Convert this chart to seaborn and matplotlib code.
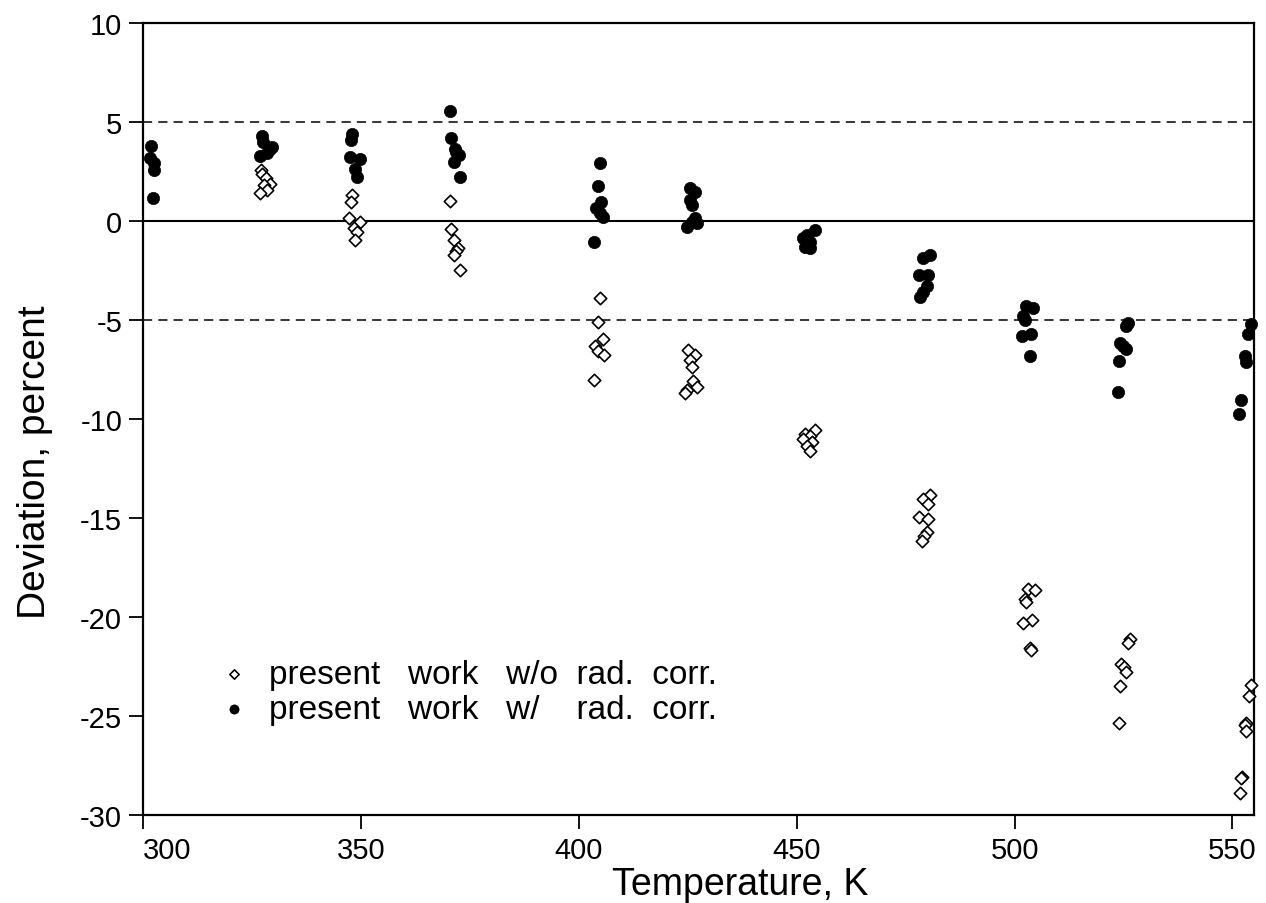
import matplotlib
matplotlib.use("Agg")
import matplotlib.pyplot as plt
import seaborn as sns
import pandas as pd

# ---- data: present work with radiation correction (filled circles) ----
temp_with = [301.8, 301.7, 302.4, 302.6, 302.3,
             327.3, 327.6, 329.2, 328.4, 326.9, 329.5,
             347.9, 347.7, 347.4, 349.7, 348.7, 349.1,
             370.5, 370.7, 371.6, 372.4, 371.4, 372.8, 371.8,
             404.9, 404.3, 405.2, 404.0, 404.9, 405.6, 403.5,
             425.6, 426.7, 425.6, 426.0, 426.7, 426.0, 424.8, 427.1,
             454.2, 452.3, 451.4, 453.1, 451.9, 453.1,
             480.6, 479.0, 480.2, 478.1, 479.8, 479.0, 478.4,
             502.7, 504.2, 501.9, 502.3, 503.8, 501.6, 503.5,
             526.0, 525.6, 524.1, 524.8, 525.5, 523.9, 523.7,
             554.3, 553.6, 552.8, 553.2, 552.0, 551.5]
dev_with = [3.8, 3.15, 2.9, 2.55, 1.17,
            4.3, 4.0, 3.65, 3.4, 3.25, 3.75,
            4.4, 4.07, 3.23, 3.11, 2.64, 2.22,
            5.55, 4.19, 3.65, 3.31, 2.98, 2.22, 3.5,
            2.9, 1.75, 0.97, 0.63, 0.38, 0.21, -1.05,
            1.67, 1.47, 1.05, 0.8, 0.13, -0.04, -0.29, -0.13,
            -0.46, -0.71, -0.88, -1.05, -1.3, -1.38,
            -1.72, -1.89, -2.73, -2.73, -3.31, -3.6, -3.82,
            -4.32, -4.4, -4.82, -4.99, -5.7, -5.83, -6.83,
            -5.16, -5.33, -6.17, -6.33, -6.45, -7.06, -8.63,
            -5.21, -5.71, -6.83, -7.12, -9.07, -9.74]

# ---- data: present work without radiation correction (open diamonds) ----
temp_without = [327.0, 327.3, 328.1, 329.1, 327.7, 328.4, 326.8,
                347.9, 347.7, 347.2, 349.7, 348.3, 349.1, 348.7,
                370.5, 370.7, 371.3, 372.2, 371.9, 371.3, 372.7,
                404.9, 404.3, 405.5, 403.7, 404.3, 405.8, 403.5,
                425.1, 426.7, 425.6, 426.0, 426.3, 427.1, 424.8, 424.4,
                454.2, 451.9, 453.1, 451.4, 453.4, 452.3, 453.1,
                480.7, 479.0, 480.2, 478.1, 480.2, 479.8, 479.2, 478.7,
                503.1, 504.6, 502.3, 502.7, 504.1, 501.9, 503.5, 503.7,
                526.4, 526.0, 524.5, 525.0, 525.6, 524.2, 523.9,
                554.3, 553.8, 553.2, 552.8, 553.0, 552.3, 552.0, 551.8]
dev_without = [2.56, 2.34, 2.17, 1.88, 1.8, 1.55, 1.43,
               1.3, 0.97, 0.13, -0.08, -0.38, -0.58, -0.97,
               1.0, -0.41, -0.97, -1.35, -1.52, -1.72, -2.47,
               -3.9, -5.11, -5.95, -6.33, -6.58, -6.75, -8.04,
               -6.5, -6.75, -7.05, -7.39, -8.09, -8.4, -8.56, -8.68,
               -10.58, -10.75, -10.86, -11.03, -11.15, -11.37, -11.62,
               -13.83, -14.05, -14.3, -14.97, -15.06, -15.73, -15.9, -16.15,
               -18.58, -18.66, -19.08, -19.25, -20.14, -20.31, -21.55, -21.65,
               -21.1, -21.31, -22.35, -22.52, -22.77, -23.49, -25.37,
               -23.44, -24.0, -25.37, -25.46, -25.74, -28.06, -28.14, -28.9]

label_without = "present   work   w/o  rad.  corr."
label_with = "present   work   w/    rad.  corr."
x_ticks = [300, 350, 400, 450, 500, 550]
y_ticks = [10, 5, 0, -5, -10, -15, -20, -25, -30]
ref_lines = [5, -5]

df_without = pd.DataFrame({"T": temp_without, "dev": dev_without})
df_with = pd.DataFrame({"T": temp_with, "dev": dev_with})

sns.set_theme(style="ticks")
plt.rcParams["font.family"] = ["Liberation Sans", "DejaVu Sans"]

fig = plt.figure(figsize=(12.66, 9.04), dpi=100)
ax = fig.add_axes([0.113, 0.0973, 0.8777, 0.8764])

ax.axhline(0, color="black", lw=1.5, zorder=1)
for v in ref_lines:
    ax.axhline(v, color="black", lw=1.1, ls=(0, (6, 4)), zorder=1)

sns.scatterplot(data=df_without, x="T", y="dev", ax=ax, marker="D", s=40,
                facecolor="white", edgecolor="black", linewidth=1.2,
                label=label_without, zorder=3, clip_on=False)
sns.scatterplot(data=df_with, x="T", y="dev", ax=ax, marker="o", s=78,
                color="black", edgecolor="black", linewidth=0.5,
                label=label_with, zorder=4, clip_on=False)

ax.set_xlim(300, 555)
ax.set_ylim(-30, 10)
ax.set_xticks(x_ticks)
ax.set_yticks(y_ticks)
ax.set_xticklabels([str(t) for t in x_ticks])
ax.set_yticklabels([str(t) for t in y_ticks])
ax.get_xticklabels()[0].set_horizontalalignment("left")

for sp in ax.spines.values():
    sp.set_visible(True)
    sp.set_color("black")
    sp.set_linewidth(1.6)
ax.tick_params(axis="both", direction="out", length=10, width=1.3,
               colors="black", labelsize=21, pad=5)

ax.set_xlabel("Temperature, K", fontsize=27, color="black")
ax.set_ylabel("Deviation, percent", fontsize=28, color="black")
ax.xaxis.set_label_coords(0.537, -0.064)
ax.yaxis.set_label_coords(-0.081, 0.447)

leg = ax.legend(loc="upper left", bbox_to_anchor=(0.055, 0.214), frameon=False,
                fontsize=24, handletextpad=0.55, labelspacing=0.12,
                borderaxespad=0.0, handlelength=1.0, markerscale=0.75)
for t in leg.get_texts():
    t.set_color("black")

fig.savefig("out.png", dpi=100)
